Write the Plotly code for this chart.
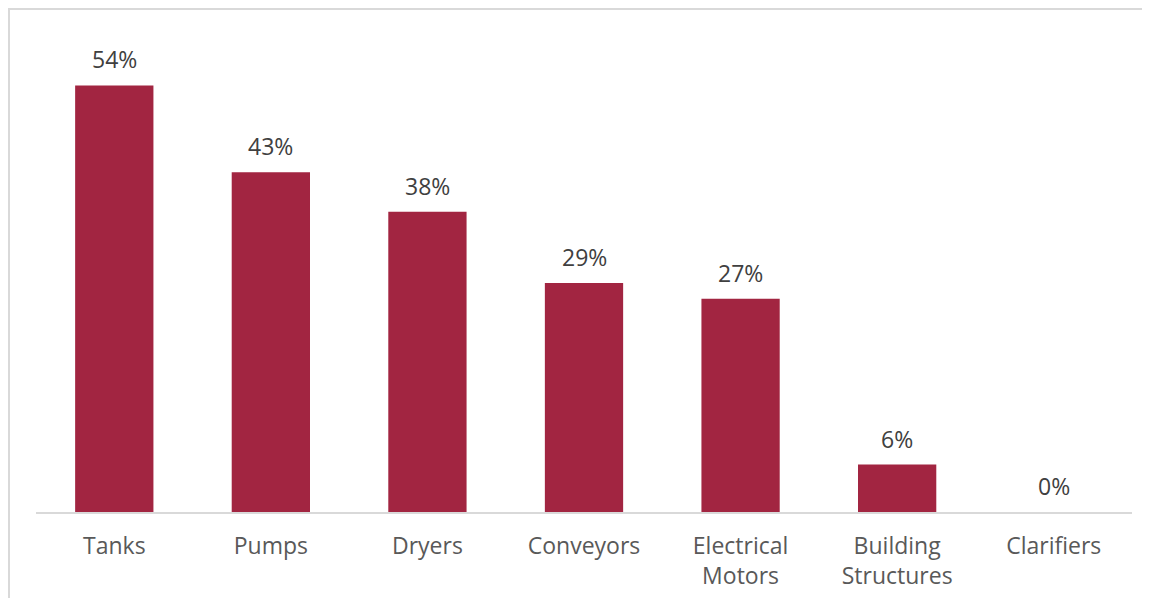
import plotly.graph_objects as go

categories = ["Tanks", "Pumps", "Dryers", "Conveyors", "Electrical<br>Motors", "Building<br>Structures", "Clarifiers"]
values = [54, 43, 38, 29, 27, 6, 0]
labels = ["54%", "43%", "38%", "29%", "27%", "6%", "0%"]

W, H = 1150, 598
L, R, T, B = 28, 26, 30, 94

fig = go.Figure()
fig.add_trace(go.Bar(
    x=categories, y=values, marker=dict(color="#A22541", line=dict(width=0)),
    hoverinfo="skip",
))

for c, v, t in zip(categories, values, labels):
    fig.add_annotation(x=c, y=v, text=t, showarrow=False, yanchor="bottom",
                       yshift=8, font=dict(size=23, color="#404040"))

pw = W - L - R
ph = H - T - B
def px_x(p):
    return (p - L) / pw
def px_y(p):
    return (H - B - p) / ph

fig.add_shape(type="line", xref="paper", yref="paper",
              x0=px_x(0), x1=px_x(1150), y0=px_y(1), y1=px_y(1),
              line=dict(color="#d9d9d9", width=2))
fig.add_shape(type="line", xref="paper", yref="paper",
              x0=px_x(1), x1=px_x(1), y0=px_y(1), y1=px_y(600),
              line=dict(color="#d9d9d9", width=2))

fig.update_layout(
    width=W, height=H,
    margin=dict(l=L, r=R, t=T, b=B, pad=0),
    paper_bgcolor="white", plot_bgcolor="white",
    bargap=0.5, showlegend=False,
    font=dict(family="Open Sans", size=23, color="#595959"),
    xaxis=dict(showline=True, linecolor="#d9d9d9", linewidth=2, ticks="",
               ticklabelstandoff=12, tickfont=dict(size=23, color="#595959")),
    yaxis=dict(range=[0, 60], visible=False, showgrid=False, zeroline=False),
)

fig.write_html("out.html")
